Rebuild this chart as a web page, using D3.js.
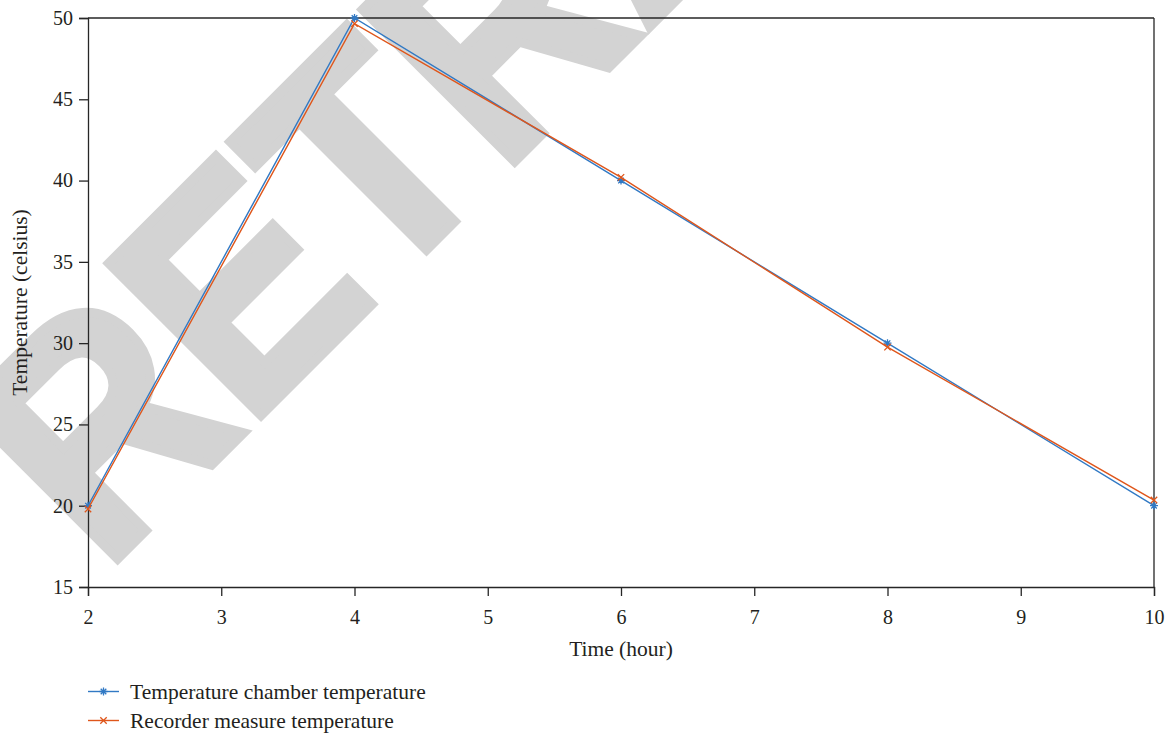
<!DOCTYPE html>
<html>
<head>
<meta charset="utf-8"/>
<script src="https://d3js.org/d3.v7.min.js"></script>
<style>
  body { margin: 0; padding: 0; background: #fff; }
  #chart { width: 1168px; height: 733px; }
  text { font-family: 'Liberation Serif', 'Times New Roman', serif; fill: #231f20; }
  .axis path, .axis line { stroke: #262626; stroke-width: 1.3; }
</style>
</head>
<body>
<div id="chart"></div>
<script>
  // Data
  const hours = [2, 4, 6, 8, 10];
  const chamberTemp = [20, 50, 40, 30, 20];
  const recorderTemp = [19.8, 49.65, 40.2, 29.75, 20.35];
  const seriesNames = ["Temperature chamber temperature", "Recorder measure temperature"];
  const seriesColors = ["#3179c4", "#df561b"];
  const xTicks = [2, 3, 4, 5, 6, 7, 8, 9, 10];
  const yTicks = [15, 20, 25, 30, 35, 40, 45, 50];

  const W = 1168, H = 733;
  const margin = {top: 18, right: 14, bottom: 146, left: 88};
  const width = W - margin.left - margin.right;
  const height = H - margin.top - margin.bottom;

  const svg = d3.select("#chart").append("svg")
    .attr("width", W)
    .attr("height", H);

  // watermark behind everything
  svg.append("text")
    .attr("transform", "translate(104,572) rotate(-45) scale(0.9,1)")
    .style("font-family", "'Liberation Sans', Arial, sans-serif")
    .style("font-weight", "bold")
    .style("font-size", "312px")
    .style("fill", "#d3d3d3")
    .style("stroke", "#d3d3d3")
    .style("stroke-width", "10px")
    .text("RETRACTED");

  const g = svg.append("g")
    .attr("transform", `translate(${margin.left},${margin.top})`);

  const x = d3.scaleLinear().domain([2, 10]).range([0, width]);
  const y = d3.scaleLinear().domain([15, 50]).range([height, 0]);

  // frame: top and right
  g.append("line").attr("x1", 0).attr("x2", width).attr("y1", 0).attr("y2", 0)
    .attr("stroke", "#262626").attr("stroke-width", 1.3);
  g.append("line").attr("x1", width).attr("x2", width).attr("y1", 0).attr("y2", height)
    .attr("stroke", "#262626").attr("stroke-width", 1.3);

  // axes
  const xAxis = g.append("g")
    .attr("class", "axis")
    .attr("transform", `translate(0,${height})`)
    .call(d3.axisBottom(x).tickValues(xTicks).tickSize(9).tickPadding(14).tickFormat(d3.format("d")));
  xAxis.selectAll("text").style("font-size", "20px").attr("fill", "#231f20");

  const yAxis = g.append("g")
    .attr("class", "axis")
    .call(d3.axisLeft(y).tickValues(yTicks).tickSize(9).tickPadding(6).tickFormat(d3.format("d")));
  yAxis.selectAll("text").style("font-size", "20px").attr("fill", "#231f20");

  // axis titles
  svg.append("text")
    .attr("x", margin.left + width / 2)
    .attr("y", 656)
    .attr("text-anchor", "middle")
    .style("font-size", "21.5px")
    .text("Time (hour)");

  svg.append("text")
    .attr("transform", `translate(27,${margin.top + height / 2}) rotate(-90)`)
    .attr("text-anchor", "middle")
    .style("font-size", "21.5px")
    .text("Temperature (celsius)");

  // markers
  const starPath = "M-4,0H4M0,-4V4M-2.8,-2.8L2.8,2.8M-2.8,2.8L2.8,-2.8";
  const crossPath = "M-3.2,-3.2L3.2,3.2M-3.2,3.2L3.2,-3.2";
  const markers = [starPath, crossPath];

  const line = d3.line()
    .x(d => x(d[0]))
    .y(d => y(d[1]));

  [chamberTemp, recorderTemp].forEach((vals, i) => {
    const pts = hours.map((h, j) => [h, vals[j]]);
    g.append("path")
      .datum(pts)
      .attr("fill", "none")
      .attr("stroke", seriesColors[i])
      .attr("stroke-width", 1.4)
      .attr("d", line);
    g.selectAll(".m" + i)
      .data(pts)
      .enter()
      .append("path")
      .attr("class", "m" + i)
      .attr("transform", d => `translate(${x(d[0])},${y(d[1])})`)
      .attr("d", markers[i])
      .attr("fill", "none")
      .attr("stroke", seriesColors[i])
      .attr("stroke-width", 1.3);
  });

  // legend
  const legend = svg.append("g");
  seriesNames.forEach((name, i) => {
    const ly = 691.5 + i * 29;
    legend.append("line")
      .attr("x1", 88).attr("x2", 119).attr("y1", ly).attr("y2", ly)
      .attr("stroke", seriesColors[i]).attr("stroke-width", 1.4);
    legend.append("path")
      .attr("transform", `translate(103.5,${ly})`)
      .attr("d", markers[i])
      .attr("fill", "none")
      .attr("stroke", seriesColors[i])
      .attr("stroke-width", 1.3);
    legend.append("text")
      .attr("x", 130)
      .attr("y", ly + 7)
      .style("font-size", "21.5px")
      .text(name);
  });
</script>
</body>
</html>
